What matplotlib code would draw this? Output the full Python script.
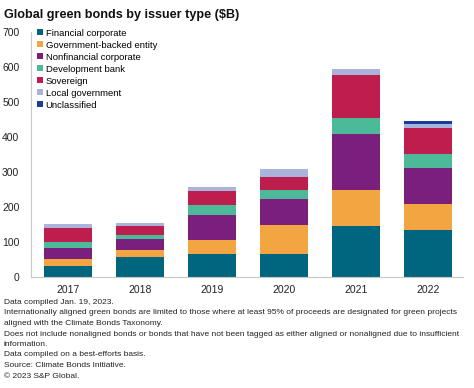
import matplotlib.pyplot as plt
import numpy as np

plt.rcParams['font.family'] = ['Liberation Sans', 'DejaVu Sans']

years = ['2017', '2018', '2019', '2020', '2021', '2022']
financial = [32, 55, 66, 64, 144, 133]
gov_backed = [19, 20, 39, 84, 104, 76]
nonfinancial = [31, 32, 70, 75, 161, 102]
dev_bank = [17, 11, 31, 25, 45, 39]
sovereign = [39, 27, 38, 37, 122, 76]
local_gov = [12, 8, 12, 23, 17, 10]
unclassified = [0, 0, 0, 0, 0, 8]

series = [
    ('Financial corporate', financial, '#00667f'),
    ('Government-backed entity', gov_backed, '#f2a541'),
    ('Nonfinancial corporate', nonfinancial, '#7a1f7c'),
    ('Development bank', dev_bank, '#4cba98'),
    ('Sovereign', sovereign, '#be1e4e'),
    ('Local government', local_gov, '#aab3dc'),
    ('Unclassified', unclassified, '#1c3c9c'),
]

fig = plt.figure(figsize=(4.74, 3.88), dpi=100)
ax = fig.add_axes([30.5 / 474, 1 - 276.7 / 388, (463 - 30.5) / 474, (276.7 - 31.7) / 388])

x = np.arange(len(years))
bottom = np.zeros(len(years))
for name, vals, col in series:
    ax.bar(x, vals, 0.67, bottom=bottom, color=col, label=name)
    bottom += np.array(vals)

ax.set_xlim(-0.52, 5.49)
ax.set_ylim(0, 700)
ax.set_xticks(x)
ax.set_xticklabels(years)
ax.set_yticks(range(0, 701, 100))
ax.tick_params(length=0, labelsize=7.5, colors='#222222')
ax.tick_params(axis='x', pad=6)
ax.tick_params(axis='y', pad=8)
for s in ['top', 'right']:
    ax.spines[s].set_visible(False)
ax.spines['left'].set_color('#c8c8c8')
ax.spines['bottom'].set_color('#c8c8c8')

ax.legend(loc='upper left', bbox_to_anchor=(0.0, 1.04), frameon=False, fontsize=6.8,
          handlelength=0.6, handleheight=0.6, handletextpad=0.3, labelspacing=0.32,
          borderaxespad=0.3)

fig.text(0.008, 0.976, 'Global green bonds by issuer type ($B)', fontsize=9.1,
         fontweight='bold', va='top', color='#111111')

notes = ('Data compiled Jan. 19, 2023.\n'
         'Internationally aligned green bonds are limited to those where at least 95% of proceeds are designated for green projects\n'
         'aligned with the Climate Bonds Taxonomy.\n'
         'Does not include nonaligned bonds or bonds that have not been tagged as either aligned or nonaligned due to insufficient\n'
         'information.\n'
         'Data compiled on a best-efforts basis.\n'
         'Source: Climate Bonds Initiative.\n'
         '\u00a9 2023 S&P Global.')
fig.text(0.008, 1 - 299 / 388, notes, fontsize=6.05, va='top', linespacing=1.7, color='#222222')

fig.savefig('out.png', dpi=100)
